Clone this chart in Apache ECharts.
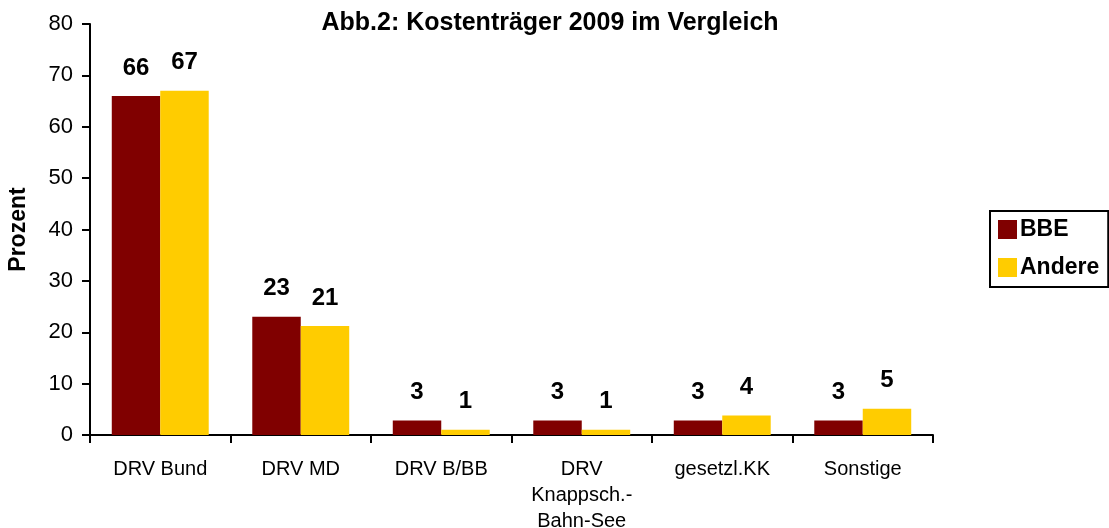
<!DOCTYPE html>
<html>
<head>
<meta charset="utf-8">
<script src="https://cdn.jsdelivr.net/npm/echarts@6/dist/echarts.min.js"></script>
<style>
  html, body { margin: 0; padding: 0; background: #fff; }
  #main { width: 1109px; height: 528px; }
</style>
</head>
<body>
<div id="main"></div>
<script>
// Kategorien und Werte (Prozent)
var kategorien = ['DRV Bund', 'DRV MD', 'DRV B/BB', 'DRV\nKnappsch.-\nBahn-See', 'gesetzl.KK', 'Sonstige'];
var bbe = [66, 23, 2.8, 2.8, 2.8, 2.8];
var andere = [67, 21.2, 1, 1, 3.8, 5.1];
var yTicks = [0, 10, 20, 30, 40, 50, 60, 70, 80];

var myChart = echarts.init(document.getElementById('main'));

var fontFam = '"Liberation Sans", Arial, sans-serif';

var labelOpt = {
  show: true,
  position: 'top',
  distance: 16,
  color: '#000',
  fontFamily: fontFam,
  fontWeight: 'bold',
  fontSize: 24,
  formatter: function (p) { return Math.round(p.value); }
};

var option = {
  animation: false,
  backgroundColor: '#fff',
  title: {
    text: 'Abb.2: Kostenträger 2009 im Vergleich',
    left: 545,
    textAlign: 'center',
    top: 6,
    textStyle: { fontFamily: fontFam, fontWeight: 'bold', fontSize: 25, color: '#000' }
  },
  legend: {
    orient: 'vertical',
    left: 990,
    top: 211,
    padding: [7, 9, 8, 8],
    borderColor: '#000',
    borderWidth: 2,
    itemWidth: 19,
    itemHeight: 19,
    itemGap: 15,
    icon: 'rect',
    textStyle: { fontFamily: fontFam, fontWeight: 'bold', fontSize: 23, color: '#000', padding: [0, 0, 0, -2] },
    data: ['BBE', 'Andere']
  },
  grid: { left: 90, right: 176, top: 24, bottom: 93, containLabel: false, outerBoundsMode: 'none' },
  xAxis: {
    type: 'category',
    data: kategorien,
    axisLine: { lineStyle: { color: '#000', width: 2 } },
    axisTick: { show: true, length: 8, lineStyle: { color: '#000', width: 2 } },
    axisLabel: {
      color: '#000', fontFamily: fontFam, fontSize: 20, margin: 21,
      lineHeight: 26, interval: 0
    }
  },
  yAxis: {
    type: 'value',
    min: yTicks[0],
    max: yTicks[yTicks.length - 1],
    interval: 10,
    name: 'Prozent',
    nameLocation: 'middle',
    nameGap: 60,
    nameTextStyle: { fontFamily: fontFam, fontWeight: 'bold', fontSize: 23, color: '#000' },
    splitLine: { show: false },
    axisLine: { show: true, lineStyle: { color: '#000', width: 2 } },
    axisTick: { show: true, length: 8, lineStyle: { color: '#000', width: 2 } },
    axisLabel: { color: '#000', fontFamily: fontFam, fontSize: 22, margin: 17 }
  },
  series: [
    {
      name: 'BBE',
      type: 'bar',
      data: bbe,
      barGap: '0%',
      barCategoryGap: '31%',
      itemStyle: { color: '#800000' },
      label: labelOpt
    },
    {
      name: 'Andere',
      type: 'bar',
      data: andere,
      itemStyle: { color: '#FFCC00' },
      label: labelOpt
    }
  ]
};

myChart.setOption(option);
</script>
</body>
</html>
